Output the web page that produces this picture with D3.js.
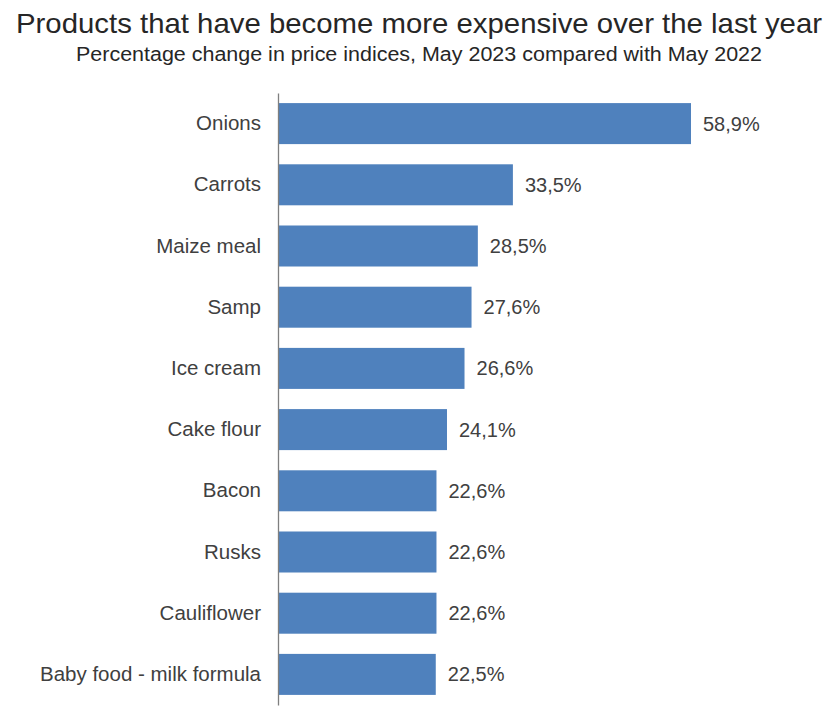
<!DOCTYPE html>
<html>
<head>
<meta charset="utf-8">
<script src="https://cdn.jsdelivr.net/npm/d3@7"></script>
<style>
  html, body { margin: 0; padding: 0; background: #ffffff; }
  svg { display: block; font-family: "Liberation Sans", Arial, sans-serif; }
</style>
</head>
<body>
<svg id="chart" width="834" height="717"></svg>
<script>
const titleText = "Products that have become more expensive over the last year";
const subtitleText = "Percentage change in price indices, May 2023 compared with May 2022";
const categories = ["Onions", "Carrots", "Maize meal", "Samp", "Ice cream", "Cake flour", "Bacon", "Rusks", "Cauliflower", "Baby food - milk formula"];
const values = [58.9, 33.5, 28.5, 27.6, 26.6, 24.1, 22.6, 22.6, 22.6, 22.5];

const svg = d3.select("#chart");
const fmt = v => d3.format(".1f")(v).replace(".", ",") + "%";

const x = d3.scaleLinear().domain([0, 58.9]).range([278, 691]);
const y = d3.scaleBand().domain(categories).range([93, 705]).paddingInner(0.33).paddingOuter(0.165);

svg.append("text")
  .attr("x", 419).attr("y", 33)
  .attr("text-anchor", "middle")
  .attr("font-size", 28)
  .attr("fill", "#262626")
  .attr("textLength", 806).attr("lengthAdjust", "spacingAndGlyphs")
  .text(titleText);

svg.append("text")
  .attr("x", 419).attr("y", 61)
  .attr("text-anchor", "middle")
  .attr("font-size", 20)
  .attr("fill", "#262626")
  .attr("textLength", 686).attr("lengthAdjust", "spacingAndGlyphs")
  .text(subtitleText);

const data = categories.map((c, i) => ({ c, v: values[i] }));

svg.append("g").selectAll("rect").data(data).join("rect")
  .attr("x", x(0))
  .attr("y", d => y(d.c))
  .attr("width", d => x(d.v) - x(0))
  .attr("height", y.bandwidth())
  .attr("fill", "#4F81BD");

svg.append("g").selectAll("text").data(data).join("text")
  .attr("x", d => x(d.v) + 12)
  .attr("y", d => y(d.c) + y.bandwidth() / 2)
  .attr("dy", "0.35em")
  .attr("font-size", 20)
  .attr("fill", "#404040")
  .text(d => fmt(d.v));

const axis = d3.axisLeft(y).tickSize(0).tickPadding(17);
const ag = svg.append("g").attr("transform", `translate(${x(0)},0)`).call(axis);
ag.select(".domain").attr("stroke", "#7f7f7f").attr("stroke-width", 1.3);
ag.selectAll(".tick text")
  .attr("font-size", 20.5)
  .attr("font-family", "Liberation Sans, Arial, sans-serif")
  .attr("fill", "#404040");
</script>
</body>
</html>
